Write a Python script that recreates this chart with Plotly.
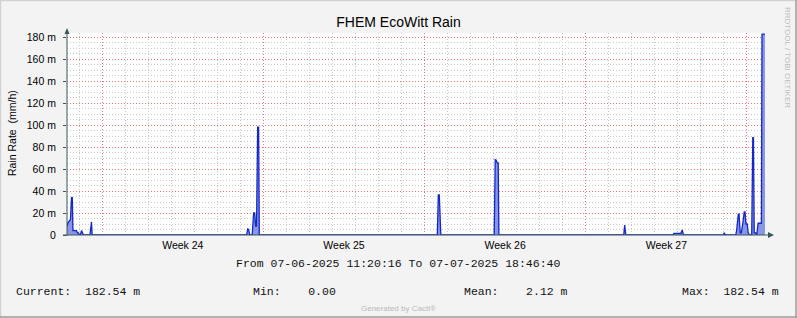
import pandas as pd
import plotly.graph_objects as go

# ---------------- data ----------------
range_start = "2025-06-07 11:20:16"
range_end = "2025-07-07 18:46:40"

# hours after range_start, and rain rate in milli-mm/h
hours = [0.0, 1.0, 2.6, 3.6, 4.7, 5.5, 6.2, 9.9, 10.9, 12.0, 13.0, 14.0, 15.1, 16.1, 17.2,
         23.9, 24.8, 25.5, 26.2,
         187.2, 188.3, 189.3, 190.4, 193.0, 194.5, 195.6, 196.6, 197.5, 198.7, 199.7, 200.4,
         385.9, 387.0, 388.0, 389.6,
         445.2, 446.3, 447.3, 448.4, 449.4, 450.1,
         580.2, 581.2, 582.4,
         631.8, 632.5, 639.8, 641.2, 642.4,
         684.0, 685.0, 686.1,
         697.0, 698.0, 699.6, 700.4, 701.6, 702.7, 704.2, 705.8, 706.6, 707.6, 708.9, 709.9,
         711.5, 713.6, 714.7, 715.4, 716.2, 717.8, 718.8, 720.3, 723.7, 724.3, 727.4]
rain = [8, 11, 13, 14, 34, 34, 4, 4, 2, 2, 0, 0, 4, 2, 0,
        0, 12, 12, 0,
        0, 5.5, 5, 0, 0, 20, 20, 8, 8, 98, 98, 0,
        0, 36.5, 36.5, 0,
        0, 68.5, 68, 65.5, 65.5, 0,
        0, 9, 0,
        0, 1.5, 1.5, 4.6, 0,
        0, 2, 0,
        0, 5, 19, 19, 2, 2, 10, 21, 21, 10, 10, 2,
        0, 0, 88.4, 88.4, 2, 2, 0, 10.7, 10.7, 182.54, 182.54]

y_tickvals = [0, 20, 40, 60, 80, 100, 120, 140, 160, 180]
y_ticktext = ["0", "20 m", "40 m", "60 m", "80 m", "100 m", "120 m", "140 m", "160 m", "180 m"]

title_text = "FHEM EcoWitt Rain"
y_title = "Rain Rate \u00a0(mm/h)"
period_text = "From 07-06-2025 11:20:16 To 07-07-2025 18:46:40"
legend_labels = ["Current:  182.54 m", "Min:    0.00", "Mean:    2.12 m", "Max:  182.54 m"]
legend_px = [17, 254, 465, 683]

# ---------------- figure ----------------
W, H = 797, 318
L, R, T, B = 67, 32, 33, 83
pw, ph = W - L - R, H - T - B


def px(x):
    return (x - L) / pw


def py(y):
    return (H - B - y) / ph


t0 = pd.Timestamp(range_start)
times = [t0 + pd.Timedelta(hours=h) for h in hours]

# minor grid positions (skipping those that coincide with major grid lines)
day_grid = [d for d in pd.date_range("2025-06-08", "2025-07-07", freq="D") if d.weekday() != 0]
y_minor = [v for v in range(5, 185, 5) if v % 20 != 0]

fig = go.Figure()
fig.add_trace(go.Scatter(
    x=times, y=rain, mode="lines",
    line=dict(color="#1428c8", width=1.3),
    fill="tozeroy", fillcolor="#8796e6",
    hoverinfo="skip", showlegend=False,
))

axis_col = "#3b5656"
sans = "Liberation Sans, Arial, sans-serif"
mono = "Liberation Mono, Courier New, monospace"
major_grid = "rgb(242,115,115)"
minor_grid = "#c8c8c8"
dash = "1px,2px"

fig.update_layout(
    width=W, height=H,
    margin=dict(l=L, r=R, t=T, b=B, pad=0),
    paper_bgcolor="#f3f3f3", plot_bgcolor="#ffffff",
    title=dict(text=title_text, x=0.5, xref="container", xanchor="center",
               y=1 - 22 / H, yref="container", yanchor="middle",
               font=dict(family=sans, size=14, color="#000")),
    showlegend=False,
)

fig.update_xaxes(
    type="date", range=[range_start, range_end],
    tick0="2025-06-09", dtick=7 * 86400000,
    tickformat="Week %V", ticklabelmode="period",
    showgrid=True, gridcolor=major_grid, griddash=dash, gridwidth=1,
    minor=dict(tickmode="array", tickvals=day_grid, showgrid=True,
               gridcolor=minor_grid, griddash=dash, gridwidth=1),
    ticks="", showline=False, zeroline=False, ticklabelstandoff=2,
    tickfont=dict(family=sans, size=10.5, color="#000"),
)
fig.update_yaxes(
    range=[0, ph / 1.1],
    tickvals=y_tickvals, ticktext=y_ticktext,
    showgrid=True, gridcolor=major_grid, griddash=dash, gridwidth=1,
    minor=dict(tickmode="array", tickvals=y_minor, showgrid=True, gridcolor=minor_grid,
               griddash=dash, gridwidth=1),
    ticks="outside", ticklen=3, tickcolor=axis_col, ticklabelstandoff=5,
    showline=False, zeroline=False,
    tickfont=dict(family=sans, size=10.5, color="#000"),
)

shapes = []
# axes with arrows
shapes.append(dict(type="line", xref="paper", yref="paper",
                   x0=px(67), x1=px(67), y0=py(236), y1=py(31),
                   line=dict(color=axis_col, width=1)))
shapes.append(dict(type="path", xref="paper", yref="paper",
                   path=f"M {px(64.5)},{py(34)} L {px(69.5)},{py(34)} L {px(67)},{py(28)} Z",
                   fillcolor=axis_col, line=dict(color=axis_col, width=0)))
shapes.append(dict(type="line", xref="paper", yref="paper",
                   x0=px(63), x1=px(769), y0=py(235), y1=py(235),
                   line=dict(color=axis_col, width=1)))
shapes.append(dict(type="path", xref="paper", yref="paper",
                   path=f"M {px(768)},{py(232)} L {px(768)},{py(238)} L {px(774)},{py(235)} Z",
                   fillcolor=axis_col, line=dict(color=axis_col, width=0)))
# outer frame
light, dark = "#d2d2d2", "#9c9c9c"
shapes.append(dict(type="line", xref="paper", yref="paper",
                   x0=px(0), x1=px(W), y0=py(0.5), y1=py(0.5), line=dict(color=light, width=1.5)))
shapes.append(dict(type="line", xref="paper", yref="paper",
                   x0=px(0.5), x1=px(0.5), y0=py(0), y1=py(H), line=dict(color=light, width=1.5)))
shapes.append(dict(type="line", xref="paper", yref="paper",
                   x0=px(0), x1=px(W), y0=py(H - 1), y1=py(H - 1), line=dict(color=dark, width=1.5)))
shapes.append(dict(type="line", xref="paper", yref="paper",
                   x0=px(W - 1), x1=px(W - 1), y0=py(0), y1=py(H), line=dict(color=dark, width=1.5)))
for s in shapes:
    s["layer"] = "above"
fig.update_layout(shapes=shapes)

ann = []
ann.append(dict(text=y_title, xref="paper", yref="paper", x=px(12), y=py(133),
                textangle=-90, showarrow=False, xanchor="center", yanchor="middle",
                font=dict(family=sans, size=10.5, color="#000")))
ann.append(dict(text=period_text, xref="paper", yref="paper", x=px(398), y=py(263),
                showarrow=False, xanchor="center", yanchor="middle",
                font=dict(family=mono, size=11.5, color="#111")))
for lab, xp in zip(legend_labels, legend_px):
    ann.append(dict(text=lab.replace(" ", "\u00a0"), xref="paper", yref="paper",
                    x=px(xp), y=py(291), xshift=-3, showarrow=False,
                    xanchor="left", yanchor="middle",
                    font=dict(family=mono, size=11.5, color="#111")))
ann.append(dict(text="Generated by Cacti®", xref="paper", yref="paper", x=px(398), y=py(308),
                showarrow=False, xanchor="center", yanchor="middle",
                font=dict(family=sans, size=8, color="#b8b8b8")))
ann.append(dict(text="RRDTOOL / TOBI OETIKER", xref="paper", yref="paper", x=px(788), y=py(57),
                textangle=90, showarrow=False, xanchor="center", yanchor="middle",
                font=dict(family=sans, size=8, color="#bdbdbd")))
fig.update_layout(annotations=ann)

fig.write_html("out.html")
